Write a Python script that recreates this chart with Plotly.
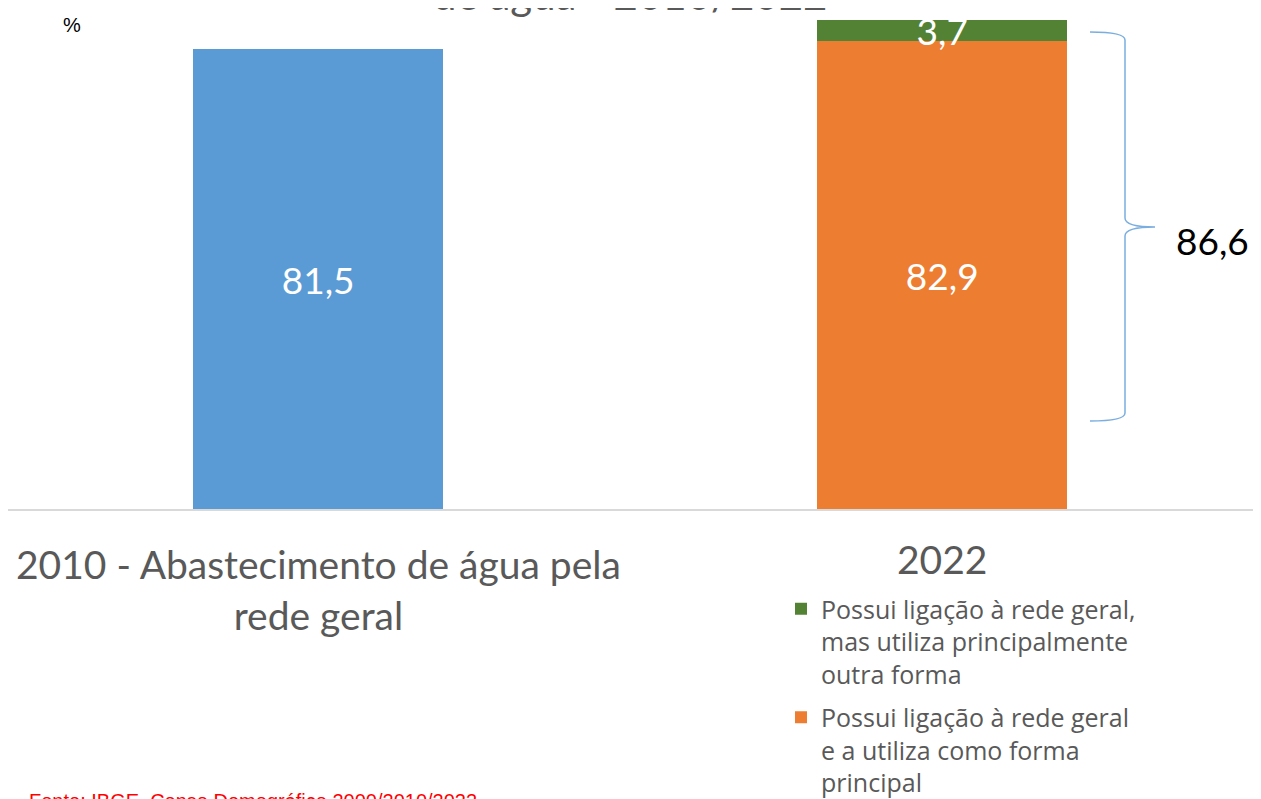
import plotly.graph_objects as go

# data
categorias = ["2010", "2022"]
rotulos_eixo = ["2010 - Abastecimento de água pela<br>rede geral", "2022"]
rede_geral_2010 = [81.5]
usa_rede_principal = [82.9]
usa_outra_forma = [3.7]
nome_usa_principal = "Possui ligação à rede geral<br>e a utiliza como forma<br>principal"
nome_outra_forma = "Possui ligação à rede geral,<br>mas utiliza principalmente<br>outra forma"

W, H = 1261, 799
OFF = 8  # the html body margin shifts the figure
L, R, T, B = 0, 16, 0, 298
font = "Lato"
cinza = "#595959"


def px2paper(px, py):
    """convert page pixels into paper coordinates of the plot area"""
    fx, fy = px - OFF, py - OFF
    return (fx - L) / (W - L - R), (H - B - fy) / (H - T - B)


fig = go.Figure()
fig.add_trace(go.Bar(
    x=[categorias[0]], y=rede_geral_2010, marker_color="#5B9BD5",
    showlegend=False, width=0.4,
))
fig.add_trace(go.Bar(
    x=[categorias[1]], y=usa_rede_principal, marker_color="#ED7D31",
    name=nome_usa_principal, legendgroup="principal", legendrank=2, width=0.4,
))
fig.add_trace(go.Bar(
    x=[categorias[1]], y=usa_outra_forma, marker_color="#548235",
    name=nome_outra_forma, legendgroup="outra", legendrank=1, width=0.4,
))
fig.update_traces(
    texttemplate="%{y:.1f}", textposition="inside", textangle=0,
    constraintext="none", insidetextanchor="middle",
    textfont=dict(family=font, size=37, color="white"),
    marker_line_width=0,
)

total = usa_rede_principal[0] + usa_outra_forma[0]

ann = []
for i, lab in enumerate(rotulos_eixo):
    ann.append(dict(x=i, xref="x", y=px2paper(0, 539 if i == 0 else 534)[1], yref="paper",
                    text=lab, showarrow=False, xanchor="center", yanchor="top",
                    font=dict(family=font, size=39, color=cinza)))
ann.append(dict(x=px2paper(1251, 0)[0], xref="paper", y=px2paper(0, 240)[1], yref="paper",
                text=f"{total:.1f}".replace(".", ","),
                showarrow=False, xanchor="right", yanchor="middle",
                font=dict(family=font, size=37, color="black")))
ann.append(dict(x=px2paper(630, 0)[0], y=px2paper(0, -6)[1], xref="paper", yref="paper",
                text="de água - 2010/2022", showarrow=False, xanchor="center", yanchor="middle",
                font=dict(family=font, size=42, color=cinza)))
ann.append(dict(x=px2paper(72, 0)[0], y=px2paper(0, 25)[1], xref="paper", yref="paper",
                text="%", showarrow=False, xanchor="center", yanchor="middle",
                font=dict(family="Liberation Sans", size=20, color="black")))
ann.append(dict(x=px2paper(27, 0)[0], y=px2paper(0, 788)[1], xref="paper", yref="paper",
                text="Fonte: IBGE, Censo Demográfico 2000/2010/2022", showarrow=False,
                xanchor="left", yanchor="top",
                font=dict(family="Liberation Sans", size=20, color="red")))

# brace
pts = {k: px2paper(*v) for k, v in {
    "a": (1090, 32), "b": (1125, 40), "c": (1125, 218), "d": (1155, 227),
    "e": (1125, 236), "f": (1125, 413), "g": (1090, 421),
}.items()}
c1 = px2paper(1125, 32)
c2 = px2paper(1125, 227)
c3 = px2paper(1125, 421)
path = (f"M {pts['a'][0]},{pts['a'][1]} Q {c1[0]},{c1[1]} {pts['b'][0]},{pts['b'][1]} "
        f"L {pts['c'][0]},{pts['c'][1]} Q {c2[0]},{c2[1]} {pts['d'][0]},{pts['d'][1]} "
        f"Q {c2[0]},{c2[1]} {pts['e'][0]},{pts['e'][1]} "
        f"L {pts['f'][0]},{pts['f'][1]} Q {c3[0]},{c3[1]} {pts['g'][0]},{pts['g'][1]}")

fig.update_layout(
    width=W, height=H,
    margin=dict(l=L, r=R, t=T, b=B, autoexpand=False),
    barmode="stack",
    separators=", ",
    plot_bgcolor="white", paper_bgcolor="white",
    xaxis=dict(type="category", range=[-0.497, 1.498], showticklabels=False, showline=True,
               linecolor="#D9D9D9", linewidth=2, showgrid=False, ticks=""),
    yaxis=dict(range=[0, 88.77], visible=False),
    annotations=ann,
    shapes=[dict(type="path", path=path, xref="paper", yref="paper",
                 line=dict(color="#7AAEE0", width=1.5))],
    legend=dict(x=px2paper(781, 0)[0], y=px2paper(0, 586)[1], xanchor="left", yanchor="top",
                traceorder="grouped", tracegroupgap=8, valign="top",
                bgcolor="rgba(0,0,0,0)",
                font=dict(family="Open Sans", size=25, color=cinza), itemwidth=30),
    showlegend=True,
)

fig.write_html("out.html")
